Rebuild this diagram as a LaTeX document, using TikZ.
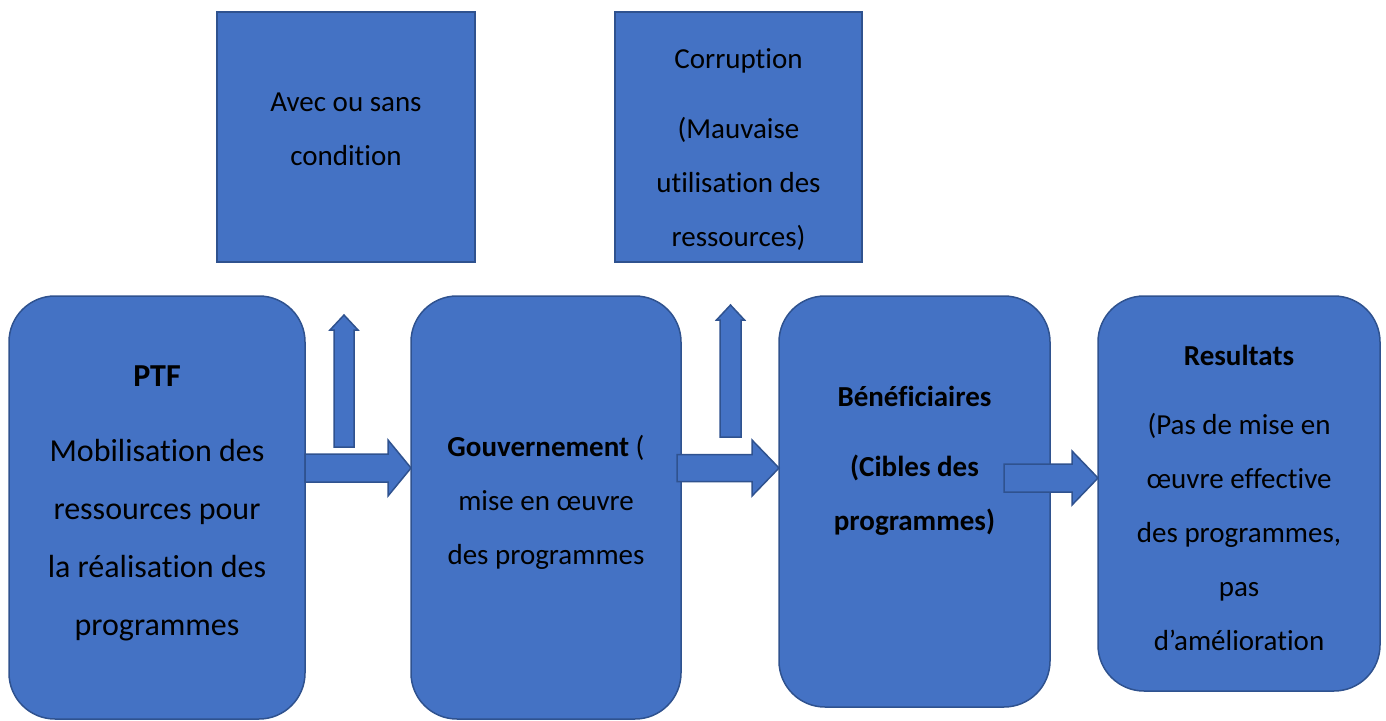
\documentclass[tikz,border=0pt]{standalone}
\usepackage{fontspec}
\setmainfont{Carlito}[Ligatures=NoCommon]
\usetikzlibrary{calc}
\definecolor{boxfill}{HTML}{4472C4}
\definecolor{boxline}{HTML}{2F528F}
\tikzset{
  sqbox/.style={draw=boxline, fill=boxfill, line width=1.5pt, inner sep=0pt, outer sep=0pt, anchor=north west},
  rbox/.style={sqbox, rounded corners=46pt},
  blockarrow/.style={draw=boxline, fill=boxfill, line width=1.5pt, line join=miter},
  txt/.style={inner sep=0pt, outer sep=0pt, anchor=north, align=center, text=black, font=\fontsize{29}{54}\selectfont},
}
\newcommand{\fl}{\rule{0pt}{30pt}}
\begin{document}
\begin{tikzpicture}[x=1pt, y=-1pt]
\useasboundingbox (0,0) rectangle (1386,720);
% top boxes
\node[sqbox, minimum width=258pt, minimum height=250pt] (avec) at (217,12) {};
\node[sqbox, minimum width=247pt, minimum height=250pt] (corr) at (615,12) {};
% main boxes
\node[rbox, minimum width=296pt, minimum height=423pt] (ptf) at (9,296) {};
\node[rbox, minimum width=270pt, minimum height=423pt] (gouv) at (411,296) {};
\node[rbox, minimum width=271pt, minimum height=411pt] (benef) at (779,296) {};
\node[rbox, minimum width=282pt, minimum height=395pt] (res) at (1098,296) {};
% texts
\node[txt] (avec-t) at (346,111-30) {\fl Avec ou sans\\condition};
\node[txt] (corr-t) at (738.5,68-30) {\fl Corruption\\[16pt](Mauvaise\\utilisation des\\ressources)};
\node[txt, font=\fontsize{32}{58}\selectfont] (ptf-t) at (157,386-30) {\fl\textbf{PTF}\\[17pt]Mobilisation des\\ressources pour\\la réalisation des\\programmes};
\node[txt] (gouv-t) at (546,456-30) {\fl\textbf{Gouvernement} (\\mise en œuvre\\des programmes};
\node[txt, font=\fontsize{29}{54}\selectfont\bfseries] (benef-t) at (914.5,406-30) {\fl Bénéficiaires\\[16pt](Cibles des\\programmes)};
\node[txt] (res-t) at (1239,365-30) {\fl\textbf{Resultats}\\[15pt](Pas de mise en\\œuvre effective\\des programmes,\\pas\\d’amélioration};
% arrow helper coordinates
\coordinate (y1) at (0,468);
\coordinate (y3) at (0,478);
\coordinate (a1s) at (ptf.east |- y1);
\coordinate (a1e) at (gouv.west |- y1);
\coordinate (a2s) at ($(gouv.east |- y1)+(-4,0)$);
\coordinate (a2e) at (benef.west |- y1);
\coordinate (a3s) at ($(benef.east |- y3)+(-46,0)$);
\coordinate (a3e) at (res.west |- y3);
\coordinate (u1s) at (344,447);
\coordinate (u1e) at (344,315);
\coordinate (u2s) at (730.5,437);
\coordinate (u2e) at (730.5,305);
% right block arrows
\draw[blockarrow] ($(a1s)+(0,-14)$) -- ($(a1e)+(-23,-14)$) -- ($(a1e)+(-23,-28)$) -- (a1e) -- ($(a1e)+(-23,28)$) -- ($(a1e)+(-23,14)$) -- ($(a1s)+(0,14)$) -- cycle;
\draw[blockarrow] ($(a2s)+(0,-13.5)$) -- ($(a2e)+(-27,-13.5)$) -- ($(a2e)+(-27,-28)$) -- (a2e) -- ($(a2e)+(-27,28)$) -- ($(a2e)+(-27,13.5)$) -- ($(a2s)+(0,13.5)$) -- cycle;
\draw[blockarrow] ($(a3s)+(0,-14)$) -- ($(a3e)+(-26,-14)$) -- ($(a3e)+(-26,-27)$) -- (a3e) -- ($(a3e)+(-26,27)$) -- ($(a3e)+(-26,14)$) -- ($(a3s)+(0,14)$) -- cycle;
% up block arrows
\draw[blockarrow] ($(u1s)+(-10,0)$) -- ($(u1e)+(-10,15)$) -- ($(u1e)+(-14,15)$) -- (u1e) -- ($(u1e)+(14,15)$) -- ($(u1e)+(10,15)$) -- ($(u1s)+(10,0)$) -- cycle;
\draw[blockarrow] ($(u2s)+(-10.5,0)$) -- ($(u2e)+(-10.5,15)$) -- ($(u2e)+(-14,15)$) -- (u2e) -- ($(u2e)+(14,15)$) -- ($(u2e)+(10.5,15)$) -- ($(u2s)+(10.5,0)$) -- cycle;
\end{tikzpicture}
\end{document}
